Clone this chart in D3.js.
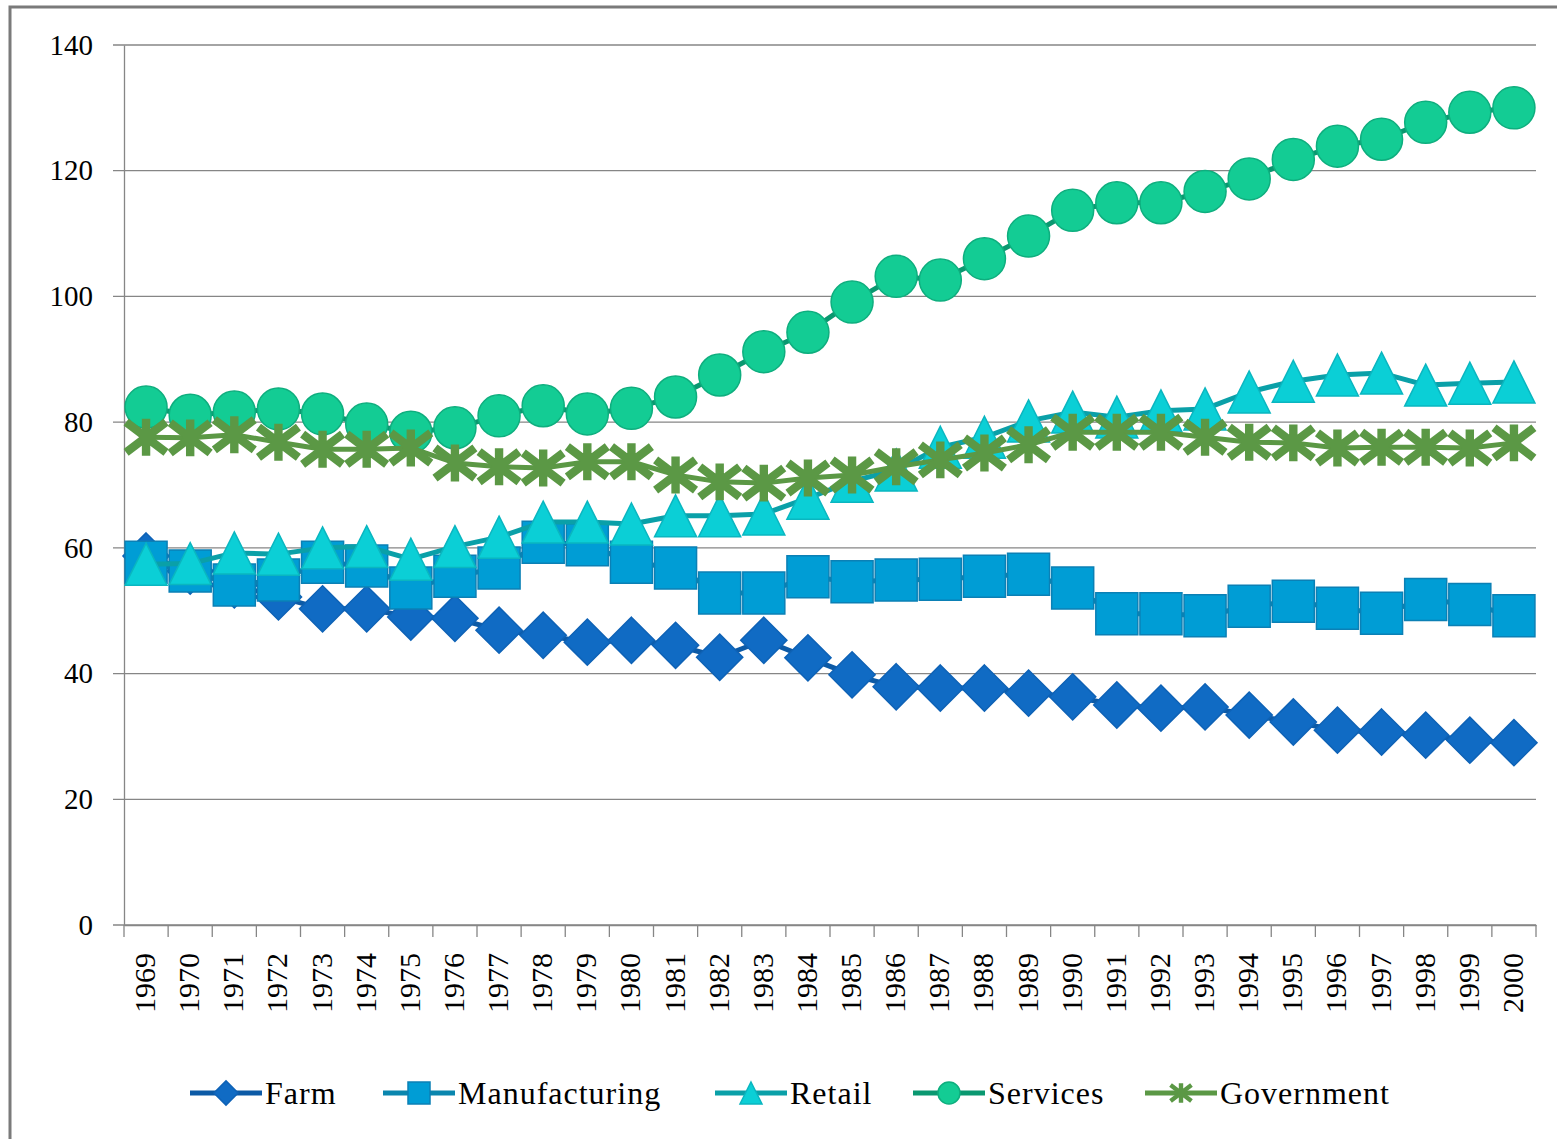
<!DOCTYPE html>
<html>
<head>
<meta charset="utf-8">
<script src="https://cdn.jsdelivr.net/npm/d3@7"></script>
<style>
  body { margin: 0; background: #fff; }
  text { font-family: "Liberation Serif", "DejaVu Serif", serif; fill: #000; }
</style>
</head>
<body>
<div id="chart"></div>
<script>
/* global d3 */

var years = [ "1969", "1970", "1971", "1972", "1973", "1974", "1975", "1976", "1977", "1978", "1979",
  "1980", "1981", "1982", "1983", "1984", "1985", "1986", "1987", "1988", "1989", "1990",
  "1991", "1992", "1993", "1994", "1995", "1996", "1997", "1998", "1999", "2000" ];

var farm = [ 58.7, 56.3, 54.1, 52.2, 50.3, 50.3, 49.0, 48.8, 46.9, 46.1, 45.0,
  45.3, 44.5, 42.6, 45.3, 42.5, 39.8, 37.9, 37.7, 37.7, 36.9, 36.3,
  35.0, 34.5, 34.7, 33.4, 32.3, 31.0, 30.7, 30.2, 29.4, 29.0 ];

var manufacturing = [ 57.7, 56.3, 54.1, 54.9, 57.7, 57.1, 53.6, 55.5, 56.8, 60.9, 60.5,
  57.7, 56.8, 52.8, 52.8, 55.4, 54.6, 54.9, 55.0, 55.5, 55.8, 53.6,
  49.5, 49.5, 49.2, 50.7, 51.5, 50.4, 49.6, 51.8, 51.0, 49.2 ];

var retail = [ 57.4, 57.5, 59.2, 59.0, 60.0, 60.2, 58.2, 60.2, 61.7, 64.1, 64.1,
  63.8, 65.1, 65.1, 65.4, 67.9, 70.6, 72.4, 76.0, 77.6, 80.2, 81.6,
  80.8, 81.8, 82.1, 84.8, 86.5, 87.5, 87.8, 85.9, 86.2, 86.4 ];

var services = [ 82.4, 81.1, 81.6, 82.1, 81.3, 79.7, 78.4, 79.1, 81.0, 82.6, 81.3,
  82.2, 84.0, 87.5, 91.2, 94.3, 99.1, 103.2, 102.6, 106.0, 109.6, 113.7,
  114.9, 114.9, 116.7, 118.7, 121.8, 123.9, 125.0, 127.7, 129.3, 130.0 ];

var government = [ 77.6, 77.5, 78.0, 76.8, 75.7, 75.7, 75.9, 73.5, 72.9, 72.7, 73.7,
  73.7, 71.6, 70.5, 70.3, 71.1, 71.6, 72.9, 74.0, 75.1, 76.4, 78.4,
  78.4, 78.4, 77.6, 76.8, 76.7, 75.9, 76.0, 76.0, 75.9, 76.7 ];

var yTicks = [ 0, 20, 40, 60, 80, 100, 120, 140 ];

var seriesNames = [ "Farm", "Manufacturing", "Retail", "Services", "Government" ];

var width = 1557,
  height = 1139,
  plot = { left: 124, right: 1536, top: 45, bottom: 925 };

// styles per series
var styles = {
  Farm: { shape: "diamond", fill: "#106bc4", stroke: "#0e62b6", line: "#0c5aa6" },
  Manufacturing: { shape: "square", fill: "#009dd5", stroke: "#0b80b5", line: "#0a86ae" },
  Retail: { shape: "triangle", fill: "#0bcfd6", stroke: "#0ab6c0", line: "#0aa0a8" },
  Services: { shape: "circle", fill: "#13cc94", stroke: "#0eae7e", line: "#0a9870" },
  Government: { shape: "star", fill: "#5b9845", stroke: "#5b9845", line: "#5b9845" }
};

var seriesData = [ farm, manufacturing, retail, services, government ];

var svg = d3.select( "#chart" ).append( "svg" )
  .attr( "width", width )
  .attr( "height", height );

// outer frame
svg.append( "rect" )
  .attr( "x", 10 ).attr( "y", 7 )
  .attr( "width", 1700 ).attr( "height", 1300 )
  .attr( "fill", "none" )
  .attr( "stroke", "#7a7a7a" )
  .attr( "stroke-width", 3 );

var x = d3.scaleBand()
  .domain( years )
  .range( [ plot.left, plot.right ] )
  .padding( 0 );

var y = d3.scaleLinear()
  .domain( [ 0, 140 ] )
  .range( [ plot.bottom, plot.top ] );

function cx( i ) { return x( years[ i ] ) + x.bandwidth() / 2; }

// gridlines
svg.append( "g" ).selectAll( "line" )
  .data( yTicks )
  .enter().append( "line" )
    .attr( "x1", plot.left - 11 )
    .attr( "x2", plot.right )
    .attr( "y1", d => y( d ) )
    .attr( "y2", d => y( d ) )
    .attr( "stroke", "#868686" )
    .attr( "stroke-width", 1.3 );

// y axis labels
var yAxis = svg.append( "g" )
  .attr( "transform", "translate(" + plot.left + ",0)" )
  .call( d3.axisLeft( y ).tickValues( yTicks ).tickSize( 0 ).tickPadding( 31 ) );
yAxis.select( ".domain" ).attr( "stroke", "#868686" ).attr( "stroke-width", 1.3 );
yAxis.selectAll( "text" ).attr( "font-size", 29 ).attr( "font-family", "Liberation Serif" );

// x axis
var xAxis = svg.append( "g" )
  .attr( "transform", "translate(0," + plot.bottom + ")" )
  .call( d3.axisBottom( x ).tickSize( 0 ).tickPadding( 0 ) );
xAxis.select( ".domain" ).attr( "stroke", "#868686" ).attr( "stroke-width", 1.3 );
xAxis.selectAll( "text" )
  .attr( "font-size", 30 )
  .attr( "font-family", "Liberation Serif" )
  .attr( "text-anchor", "end" )
  .attr( "dy", null )
  .attr( "transform", "translate(9,28) rotate(-90)" );

// tick marks at band edges
svg.append( "g" ).selectAll( "line" )
  .data( years.concat( [ null ] ) )
  .enter().append( "line" )
    .attr( "x1", d => d === null ? plot.right : x( d ) )
    .attr( "x2", d => d === null ? plot.right : x( d ) )
    .attr( "y1", plot.bottom )
    .attr( "y2", plot.bottom + 12 )
    .attr( "stroke", "#868686" )
    .attr( "stroke-width", 1.3 );

// marker shapes
function markerPath( shape, s ) {
  var h = s / 2;
  if( shape === "diamond" ) {
    h = h * 1.1;
    return "M0," + ( -h ) + "L" + h + ",0L0," + h + "L" + ( -h ) + ",0Z";
  }
  if( shape === "square" ) return "M" + ( -h ) + "," + ( -h ) + "H" + h + "V" + h + "H" + ( -h ) + "Z";
  if( shape === "triangle" ) return "M0," + ( -h ) + "L" + h + "," + h + "L" + ( -h ) + "," + h + "Z";
  if( shape === "circle" ) return d3.symbol( d3.symbolCircle, Math.PI * h * h )();
  // star: vertical bar plus an X
  var w = h * 0.95, v = h * 0.72, t = h * 0.88;
  return "M0," + ( -t ) + "V" + t +
    "M" + ( -w ) + "," + ( -v ) + "L" + w + "," + v +
    "M" + ( -w ) + "," + v + "L" + w + "," + ( -v );
}

function drawMarker( sel, name, size ) {
  var st = styles[ name ];
  var p = sel.append( "path" ).attr( "d", markerPath( st.shape, size ) );
  if( st.shape === "star" ) {
    p.attr( "fill", "none" ).attr( "stroke", st.stroke ).attr( "stroke-width", size * 0.2 );
  } else {
    p.attr( "fill", st.fill ).attr( "stroke", st.stroke ).attr( "stroke-width", 1.5 );
  }
  return p;
}

var line = d3.line()
  .x( ( d, i ) => cx( i ) )
  .y( d => y( d ) );

seriesNames.forEach( function( name, si ) {
  var vals = seriesData[ si ];
  var g = svg.append( "g" ).attr( "class", "series" );
  g.append( "path" )
    .attr( "d", line( vals ) )
    .attr( "fill", "none" )
    .attr( "stroke", styles[ name ].line )
    .attr( "stroke-width", 5 )
    .attr( "stroke-linejoin", "round" );
  g.selectAll( ".m" )
    .data( vals )
    .enter().append( "g" )
      .attr( "class", "m" )
      .attr( "transform", ( d, i ) => "translate(" + cx( i ) + "," + y( d ) + ")" )
      .each( function() { drawMarker( d3.select( this ), name, 42 ); } );
} );

// legend
var legendX = [ 190, 383, 715, 913, 1145 ];
var legendY = 1093;
var legend = svg.append( "g" ).selectAll( "g" )
  .data( seriesNames )
  .enter().append( "g" )
    .attr( "transform", ( d, i ) => "translate(" + legendX[ i ] + "," + legendY + ")" );

legend.append( "line" )
  .attr( "x1", 0 ).attr( "x2", 72 )
  .attr( "stroke", d => styles[ d ].line )
  .attr( "stroke-width", 5 );

legend.append( "g" )
  .attr( "transform", "translate(36,0)" )
  .each( function( d ) { drawMarker( d3.select( this ), d, 22 ); } );

legend.append( "text" )
  .attr( "x", 75 )
  .attr( "y", 11 )
  .attr( "font-size", 32 )
  .attr( "letter-spacing", 1 )
  .text( d => d );
</script>
</body>
</html>
